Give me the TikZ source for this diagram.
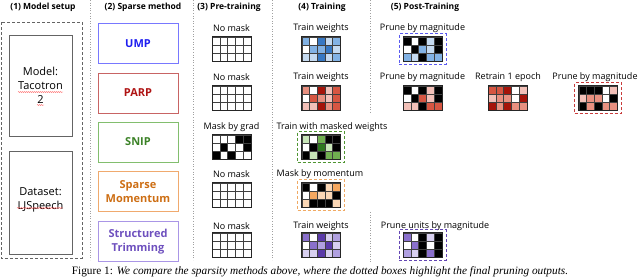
\documentclass[tikz,border=0pt]{standalone}
\usepackage{xcolor}
\usepackage{fontspec}
\setmainfont{Liberation Serif}
\setsansfont{Open Sans}
\usepackage{tikz}
\usetikzlibrary{positioning, fit, decorations.pathmorphing}
\definecolor{setupgray}{RGB}{100,100,100}
\definecolor{sepgray}{RGB}{160,160,160}
\definecolor{umptxt}{RGB}{30,30,240}
\definecolor{umpline}{RGB}{120,120,255}
\definecolor{parptxt}{RGB}{175,20,20}
\definecolor{parpline}{RGB}{200,100,100}
\definecolor{sniptxt}{RGB}{60,130,40}
\definecolor{snipline}{RGB}{130,190,110}
\definecolor{momtxt}{RGB}{205,110,20}
\definecolor{momline}{RGB}{240,170,110}
\definecolor{strtxt}{RGB}{110,80,190}
\definecolor{strline}{RGB}{170,150,230}
\definecolor{hlblue}{RGB}{90,90,240}
\definecolor{hlred}{RGB}{200,60,60}
\definecolor{hlgreen}{RGB}{80,150,50}
\definecolor{hlorange}{RGB}{240,170,100}
\definecolor{hlpurple}{RGB}{100,70,180}
% cell colours
\colorlet{W}{white}
\colorlet{K}{black}
\definecolor{B1}{RGB}{197,218,240}
\definecolor{B2}{RGB}{130,178,228}
\definecolor{B3}{RGB}{55,120,195}
\definecolor{R1}{RGB}{242,192,184}
\definecolor{R2}{RGB}{232,144,128}
\definecolor{R3}{RGB}{214,86,66}
\definecolor{R4}{RGB}{165,20,10}
\definecolor{G1}{RGB}{200,230,184}
\definecolor{G2}{RGB}{112,176,80}
\definecolor{G3}{RGB}{46,120,30}
\definecolor{O1}{RGB}{250,215,182}
\definecolor{O2}{RGB}{245,168,96}
\definecolor{P1}{RGB}{216,208,240}
\definecolor{P2}{RGB}{176,160,224}
\definecolor{P3}{RGB}{138,112,204}
\definecolor{P4}{RGB}{90,58,168}
\tikzset{
  header/.style={font=\sffamily\bfseries\fontsize{8.5}{10}\selectfont,
    fill=white, inner sep=1pt},
  lbl/.style={font=\sffamily\fontsize{9}{10}\selectfont,
    fill=white, inner sep=1pt},
  setupbox/.style={rectangle, draw=setupgray, line width=0.8pt,
    align=center, minimum width=63pt,
    font=\sffamily\fontsize{11}{14}\selectfont},
  method/.style={rectangle, line width=0.8pt, minimum width=80pt,
    minimum height=40pt, align=center,
    font=\sffamily\bfseries\fontsize{11}{13.5}\selectfont},
  cell/.style={draw=black!75, line width=0.4pt},
  gridframe/.style={draw=black!85, line width=0.8pt},
  gridbox/.style={minimum width=38.5pt, minimum height=24pt, inner sep=0pt},
  hlbox/.style={densely dashed, line width=0.8pt, inner xsep=4pt, inner ysep=3pt},
  sep/.style={dotted, line width=0.6pt, color=sepgray},
  squiggle/.style={red!70, line width=0.35pt,
    decorate, decoration={snake, amplitude=0.5pt, segment length=2pt}},
  caption/.style={font=\fontsize{11.3}{13}\selectfont, inner sep=0pt}
}
% weight grid: name, centre x, centre y, cell colours row by row
\newcommand{\wgrid}[4]{%
  \node[gridbox] (#1) at (#2,#3) {};
  \edef\celllist{#4}
  \foreach \cc [count=\i from 0] in \celllist {
    \pgfmathsetmacro{\gx}{#2-19.25+7.7*mod(\i,5)}
    \pgfmathsetmacro{\gy}{#3-12+8*int(\i/5)}
    \filldraw[cell, fill=\cc] (\gx,\gy) rectangle ++(7.7,8);
  }
  \draw[gridframe] (#1.north west) rectangle (#1.south east);
}
\def\blank{W,W,W,W,W,W,W,W,W,W,W,W,W,W,W}

\begin{document}
\begin{tikzpicture}[x=1pt, y=-1pt]
  \useasboundingbox (0,0) rectangle (640,279);

  % column separators
  \draw[sep] (90,0) -- (90,260);
  \draw[sep] (193,0) -- (193,260);
  \draw[sep] (272,0) -- (272,260);
  \draw[sep] (370,0) -- (370,112);
  \draw[sep] (370,212) -- (370,262);

  % headers
  \node[header] (h1) at (43,7) {(1) Model setup};
  \node[header] (h2) at (143,7) {(2) Sparse method};
  \node[header] (h3) at (229,7) {(3) Pre-training};
  \node[header] (h4) at (322,7) {(4) Training};
  \node[header] (h5) at (425,7) {(5) Post-Training};

  % (1) Model setup
  \draw[setupgray, densely dashed, line width=0.8pt] (1,22) rectangle (82,258);
  \node[setupbox, minimum height=101pt] (model) at (40.5,85.5) {Model:\\Tacotron\\2};
  \node[setupbox, minimum height=103pt, text depth=8pt] (data) at (40.5,202.5) {Dataset:\\LJSpeech};
  \draw[squiggle] (18,92) -- (63,92);
  \draw[squiggle] (37,105) -- (44,105);
  \draw[squiggle] (17,208) -- (63,208);

  % (2) Sparse method
  \node[method, draw=umpline, text=umptxt] (ump) at (138,43.5) {UMP};
  \node[method, draw=parpline, text=parptxt] (parp) at (138,93) {PARP};
  \node[method, draw=snipline, text=sniptxt] (snip) at (138,142) {SNIP};
  \node[method, draw=momline, text=momtxt] (mom) at (138,191.5) {Sparse\\Momentum};
  \node[method, draw=strline, text=strtxt] (str) at (138,241.5) {Structured\\Trimming};

  % (3) Pre-training
  \node[lbl] (l-ump-pre) at (231.5,28) {No mask};
  \wgrid{g-ump-pre}{231.5}{49}{\blank}
  \node[lbl] (l-parp-pre) at (231.5,77) {No mask};
  \wgrid{g-parp-pre}{231.5}{98}{\blank}
  \node[lbl] (l-snip-pre) at (231.5,127) {Mask by grad};
  \wgrid{g-snip-pre}{231.5}{147}{W,W,W,K,K, W,K,W,W,K, K,W,K,W,W}
  \node[lbl] (l-mom-pre) at (231.5,174) {No mask};
  \wgrid{g-mom-pre}{231.5}{195}{\blank}
  \node[lbl] (l-str-pre) at (231.5,226) {No mask};
  \wgrid{g-str-pre}{231.5}{245}{\blank}

  % (4) Training
  \node[lbl] (l-ump-tr) at (321,28) {Train weights};
  \wgrid{g-ump-tr}{321}{49}{B2,W,B3,B1,B2, W,B2,B2,B3,B1, B1,B1,B3,B1,B2}
  \node[lbl] (l-parp-tr) at (321,77) {Train weights};
  \wgrid{g-parp-tr}{321}{98}{R2,W,R4,R1,R3, W,R3,R2,R1,R3, R1,R1,R4,R2,R3}
  \node[lbl] (l-snip-tr) at (332,127) {Train with masked weights};
  \wgrid{g-snip-tr}{321}{147}{G1,W,G2,K,K, W,K,G3,G1,K, K,G1,K,G2,G2}
  \node[hlbox, draw=hlgreen, fit=(g-snip-tr)] (hl-snip) {};
  \node[lbl] (l-mom-tr) at (320,174) {Mask by momentum};
  \wgrid{g-mom-tr}{321}{195}{K,W,K,O1,O2, W,O2,O1,O1,K, O1,K,K,K,O1}
  \node[hlbox, draw=hlorange, fit=(g-mom-tr)] (hl-mom) {};
  \node[lbl] (l-str-tr) at (321,226) {Train weights};
  \wgrid{g-str-tr}{321}{245}{P3,W,P4,P1,P2, W,P3,P2,P4,P1, P1,P1,P4,P1,P2}

  % (5) Post-Training
  \node[lbl] (l-ump-post) at (422.5,28) {Prune by magnitude};
  \wgrid{g-ump-post}{422.5}{49}{K,W,K,B1,K, W,K,B2,B1,K, B2,B1,K,B2,B2}
  \node[hlbox, draw=hlblue, fit=(g-ump-post)] (hl-ump) {};
  \node[lbl] (l-parp-post) at (422.5,77) {Prune by magnitude};
  \wgrid{g-parp-post}{422.5}{98}{K,W,K,R1,K, W,K,R3,R1,K, R1,R1,K,R3,R3}
  \node[lbl] (l-parp-re) at (508,77) {Retrain 1 epoch};
  \wgrid{g-parp-re}{507.5}{98}{R3,R3,R4,W,R1, R1,R2,R2,W,R4, R4,R2,R4,R2,R2}
  \node[lbl] (l-parp-fin) at (595,77) {Prune by magnitude};
  \wgrid{g-parp-fin}{598}{98}{K,K,K,W,R1, R1,R2,R2,W,K, K,R2,K,R2,R2}
  \node[hlbox, draw=hlred, fit=(g-parp-fin)] (hl-parp) {};
  \node[lbl] (l-str-post) at (435,226) {Prune units by magnitude};
  \wgrid{g-str-post}{422.5}{245}{P3,W,K,P1,K, W,P3,K,W,K, P2,P1,K,P3,K}
  \node[hlbox, draw=hlpurple, fit=(g-str-post)] (hl-str) {};

  % caption
  \node[caption] (cap) at (320,272) {Figure 1: \textit{We compare the sparsity methods above, where the dotted boxes highlight the final pruning outputs.}};
\end{tikzpicture}
\end{document}
